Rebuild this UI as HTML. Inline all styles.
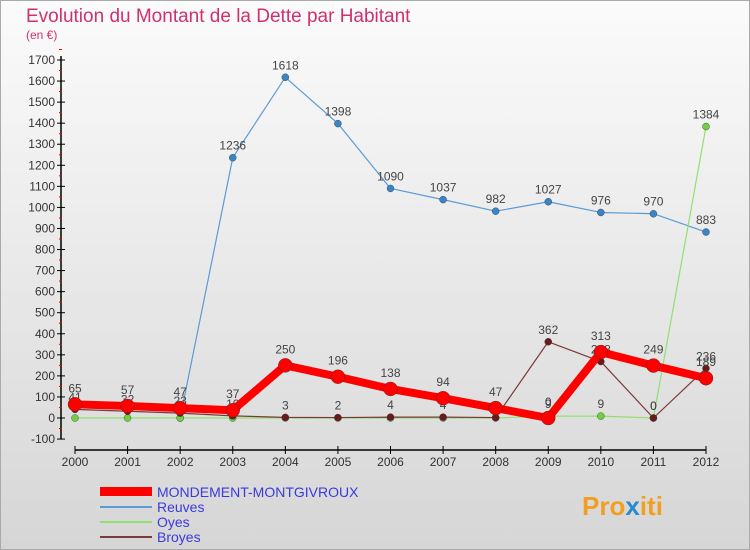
<!DOCTYPE html>
<html><head><meta charset="utf-8"><style>
body{margin:0;width:750px;height:550px;overflow:hidden;font-family:"Liberation Sans",sans-serif}
.bg{position:absolute;left:0;top:0;width:750px;height:550px;background:linear-gradient(#fbfbfb,#d6d6d6);border:1px solid #aaa;box-sizing:border-box}
</style></head><body>
<div class="bg"></div>
<svg id="c" width="750" height="550" style="position:absolute;left:0;top:0" font-family="Liberation Sans, sans-serif">
<text x="26" y="22" font-size="19" font-weight="normal" fill="#d0306e">Evolution du Montant de la Dette par Habitant</text>
<text x="26" y="39" font-size="12" fill="#d0306e">(en €)</text>
<g id="axes"></g><g id="series"></g>
<g>
<rect x="100" y="487" width="52" height="9" fill="#f00"/>
<text x="157" y="497" font-size="14" fill="#3a3adc">MONDEMENT-MONTGIVROUX</text>
<line x1="100" y1="507" x2="152" y2="507" stroke="#5b9bd5" stroke-width="2"/>
<text x="157" y="512" font-size="14" fill="#3a3adc">Reuves</text>
<line x1="100" y1="522" x2="152" y2="522" stroke="#90e070" stroke-width="2"/>
<text x="157" y="527" font-size="14" fill="#3a3adc">Oyes</text>
<line x1="100" y1="537" x2="152" y2="537" stroke="#7a3a3a" stroke-width="2"/>
<text x="157" y="542" font-size="14" fill="#3a3adc">Broyes</text>
</g>
<text x="582" y="515" font-size="26" font-weight="bold" fill="#f0a020">Pro<tspan fill="#2a8ad0">x</tspan>iti</text>
</svg>
<script>
const years=[2000,2001,2002,2003,2004,2005,2006,2007,2008,2009,2010,2011,2012];
const mondement=[65,57,47,37,250,196,138,94,47,0,313,249,189];
const reuves=[null,null,0,1236,1618,1398,1090,1037,982,1027,976,970,883];
const oyes=[0,0,0,0,0,0,0,0,0,9,9,0,1384];
const broyes=[41,32,23,10,3,2,4,4,2,362,268,0,236];
const yTicks=[-100,0,100,200,300,400,500,600,700,800,900,1000,1100,1200,1300,1400,1500,1600,1700];
const NS="http://www.w3.org/2000/svg";
const X=i=>75+i*(706-75)/(years.length-1);
const Y=v=>418-v*(358/1700);
function mk(t,a,p){const e=document.createElementNS(NS,t);for(const k in a)e.setAttribute(k,a[k]);p.appendChild(e);return e;}
const ax=document.getElementById('axes'),sg=document.getElementById('series');
mk('line',{x1:61,y1:Y(1700)-4,x2:61,y2:Y(-100),stroke:'#000','stroke-width':1.5},ax);
mk('line',{x1:75,y1:450,x2:706,y2:450,stroke:'#000','stroke-width':1.5},ax);
yTicks.forEach(v=>{
 mk('line',{x1:57,y1:Y(v),x2:65,y2:Y(v),stroke:'#000'},ax);
 mk('line',{x1:59,y1:Y(v+50),x2:62,y2:Y(v+50),stroke:'#e00'},ax);
 const t=mk('text',{x:55,y:Y(v)+4,'font-size':12,fill:'#333','text-anchor':'end'},ax);t.textContent=v;
 
 
});
years.forEach((y,i)=>{
 mk('line',{x1:X(i),y1:446,x2:X(i),y2:454,stroke:'#000'},ax);
 const t=mk('text',{x:X(i),y:466,'font-size':12,fill:'#333','text-anchor':'middle'},ax);t.textContent=y;
 
 
});
function series(d,name,col,w,r,dot,lab,dy){
 const g=mk('g',{},sg);
 
 
 let pts=[];d.forEach((v,i)=>{if(v!==null)pts.push(X(i)+','+Y(v));});
 mk('polyline',{points:pts.join(' '),fill:'none',stroke:col,'stroke-width':w,'stroke-linejoin':'round'},g);
 d.forEach((v,i)=>{if(v===null)return;
  const c=mk('circle',{cx:X(i),cy:Y(v),r:r,fill:dot,stroke:'#333','stroke-width':0.4},g);
  
  
  if(lab){const t=mk('text',{x:X(i),y:Y(v)-dy,'font-size':12,fill:'#444','text-anchor':'middle'},g);t.textContent=v;}
 });
}
series(reuves,'reuves','#5b9bd5',1.2,3.5,'#3a85c8',true,8);
series(oyes,'oyes','#90e070',1.2,3.5,'#70d040',false,8);
oyes.forEach((v,i)=>{if(v!==null&&i>=9){const t=mk('text',{x:X(i),y:Y(v)-8,'font-size':12,fill:'#444','text-anchor':'middle'},sg);t.textContent=v;}});
series(broyes,'broyes','#7a3a3a',1.2,3.5,'#6a1a1a',true,8);
series(mondement,'mondement','#f00',8,7,'#f00',true,12);
</script>
</body></html>
